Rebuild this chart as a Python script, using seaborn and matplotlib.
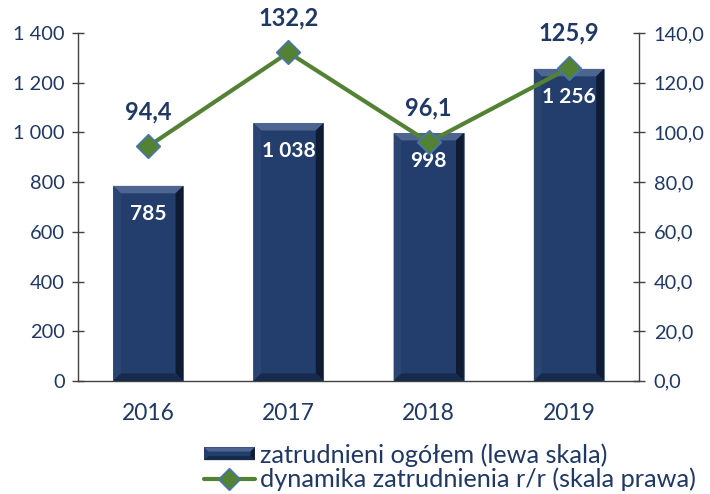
import matplotlib
matplotlib.use("Agg")
import matplotlib.pyplot as plt
from matplotlib.patches import Polygon, Rectangle
from matplotlib.lines import Line2D
from matplotlib.legend_handler import HandlerBase
import seaborn as sns
import pandas as pd

years = ["2016", "2017", "2018", "2019"]
employed = [785, 1038, 998, 1256]
dynamics = [94.4, 132.2, 96.1, 125.9]
left_ticks = [0, 200, 400, 600, 800, 1000, 1200, 1400]
right_ticks = [0, 20, 40, 60, 80, 100, 120, 140]
bar_label = "zatrudnieni ogółem (lewa skala)"
line_label = "dynamika zatrudnienia r/r (skala prawa)"

NAVY = "#1F3864"
BAR = "#233E6C"
GREEN = "#548235"
MARKER_EDGE = "#4472C4"

sns.set_theme(style="white")
plt.rcParams["font.family"] = ["Lato", "DejaVu Sans"]

df = pd.DataFrame({"rok": years, "zatrudnieni": employed, "dynamika": dynamics})


def pl_int(v):
    return f"{int(round(v)):,}".replace(",", " ")


def pl_dec(v):
    return f"{v:.1f}".replace(".", ",")


fig = plt.figure(figsize=(7.10, 4.94), dpi=100)
ax = fig.add_axes([0.110, 0.229, 0.790, 0.704])

sns.barplot(data=df, x="rok", y="zatrudnieni", ax=ax, color=BAR,
            width=0.5, saturation=1, edgecolor="#5B6F95", linewidth=0.6, zorder=2)
ax.set_xlim(-0.5, 3.5)
ax.set_ylim(0, 1400)

# bevelled edges on every bar
bx = 0.055
by = 30
for p in ax.patches:
    x0, y0 = p.get_x(), p.get_y()
    w, h = p.get_width(), p.get_height()
    x1, y1 = x0 + w, y0 + h
    top = Polygon([(x0, y1), (x1, y1), (x1 - bx, y1 - by), (x0 + bx, y1 - by)],
                  closed=True, facecolor="#4E6590", edgecolor="none", zorder=3)
    right = Polygon([(x1, y1), (x1, y0), (x1 - bx, y0 + by), (x1 - bx, y1 - by)],
                    closed=True, facecolor="#0E1B33", edgecolor="none", zorder=3)
    left = Polygon([(x0, y1), (x0, y0), (x0 + bx, y0 + by), (x0 + bx, y1 - by)],
                   closed=True, facecolor="#2B4573", edgecolor="none", zorder=3)
    bottom = Polygon([(x0, y0), (x1, y0), (x1 - bx, y0 + by), (x0 + bx, y0 + by)],
                     closed=True, facecolor="#162A4C", edgecolor="none", zorder=3)
    for poly in (top, right, left, bottom):
        ax.add_patch(poly)

for i, v in enumerate(employed):
    ax.annotate(pl_int(v), (i, v), xytext=(0, -20), textcoords="offset points",
                ha="center", va="center", color="white", fontsize=15,
                fontweight="bold", zorder=6)

ax.set_yticks(left_ticks)
ax.set_yticklabels([pl_int(t) for t in left_ticks])
ax.set_xlabel("")
ax.set_ylabel("")

ax2 = ax.twinx()
sns.lineplot(x=list(range(len(years))), y=dynamics, ax=ax2, color=GREEN,
             linewidth=3, marker="D", markersize=12.5, markerfacecolor=GREEN,
             markeredgecolor=MARKER_EDGE, markeredgewidth=1, zorder=5)
ax2.set_ylim(0, 140)
ax2.set_xlim(-0.5, 3.5)
ax2.set_yticks(right_ticks)
ax2.set_yticklabels([pl_dec(t) for t in right_ticks])

for i, v in enumerate(dynamics):
    ax2.annotate(pl_dec(v), (i, v), xytext=(0, 25), textcoords="offset points",
                 ha="center", va="center", color=NAVY, fontsize=17,
                 fontweight="bold", zorder=6)

spine_color = "#404040"
for a in (ax, ax2):
    for s in a.spines.values():
        s.set_visible(False)
ax.spines["left"].set_visible(True)
ax.spines["bottom"].set_visible(True)
ax2.spines["right"].set_visible(True)
for s in (ax.spines["left"], ax.spines["bottom"], ax2.spines["right"]):
    s.set_color(spine_color)
    s.set_linewidth(1)

ax.tick_params(axis="y", direction="inout", length=9, width=1, color=spine_color,
               labelsize=14.4, labelcolor=NAVY, pad=5, left=True)
ax2.tick_params(axis="y", direction="inout", length=9, width=1, color=spine_color,
                labelsize=14.4, labelcolor=NAVY, pad=6, right=True)
ax.tick_params(axis="x", length=0, labelsize=16.4, labelcolor=NAVY, pad=16)
ax.grid(False)
ax2.grid(False)


class BevelBarHandler(HandlerBase):
    def create_artists(self, legend, orig_handle, xdescent, ydescent, width,
                       height, fontsize, trans):
        w = width
        h = height * 0.72
        y = -ydescent + (height - h) / 2
        base = Rectangle((-xdescent, y), w, h, facecolor=BAR, edgecolor="none",
                         transform=trans)
        d = 3
        x0, x1, y0, y1 = -xdescent, -xdescent + w, y, y + h
        top = Polygon([(x0, y1), (x1, y1), (x1 - d, y1 - d), (x0 + d, y1 - d)],
                      facecolor="#4E6590", edgecolor="none", transform=trans)
        right = Polygon([(x1, y1), (x1, y0), (x1 - d, y0 + d), (x1 - d, y1 - d)],
                        facecolor="#0E1B33", edgecolor="none", transform=trans)
        bottom = Polygon([(x0, y0), (x1, y0), (x1 - d, y0 + d), (x0 + d, y0 + d)],
                         facecolor="#162A4C", edgecolor="none", transform=trans)
        return [base, top, right, bottom]


bar_handle = Rectangle((0, 0), 1, 1)
line_handle = Line2D([], [], color=GREEN, linewidth=3, marker="D", markersize=11,
                     markerfacecolor=GREEN, markeredgecolor=MARKER_EDGE,
                     markeredgewidth=1)
leg = fig.legend([bar_handle, line_handle], [bar_label, line_label],
                 handler_map={Rectangle: BevelBarHandler()},
                 loc="lower left", bbox_to_anchor=(0.284, 0.0), frameon=False,
                 fontsize=18.2, handlelength=2.0, handletextpad=0.2,
                 labelspacing=0.05, borderpad=0.1, borderaxespad=0.0)
for t in leg.get_texts():
    t.set_color(NAVY)

fig.savefig("out.png", dpi=100)
